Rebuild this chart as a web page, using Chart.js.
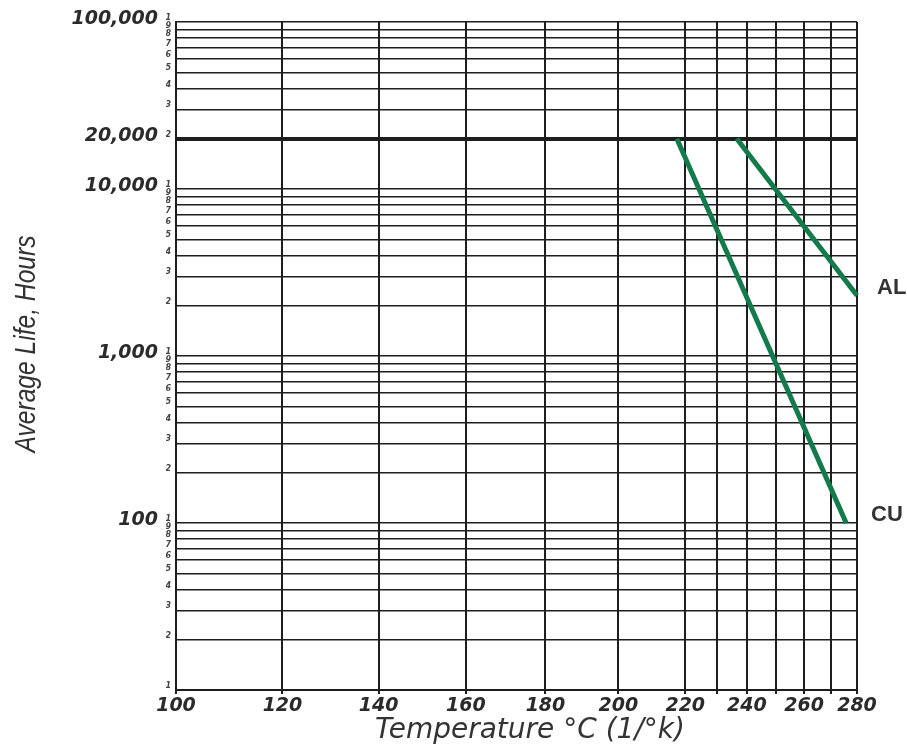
<!DOCTYPE html>
<html>
<head>
<meta charset="utf-8">
<script src="https://cdn.jsdelivr.net/npm/chart.js@4.4.1/dist/chart.umd.min.js"></script>
<style>
  html, body { margin: 0; padding: 0; background: #fff; }
  canvas { display: block; }
</style>
</head>
<body>
<canvas id="lifeChart" width="907" height="749"></canvas>
<script>
// temperature axis (°C, spaced as 1/K)
const tempTicks = [100, 120, 140, 160, 180, 200, 220, 230, 240, 250, 260, 270, 280];
const tempLabels = ['100', '120', '140', '160', '180', '200', '220', '', '240', '', '260', '', '280'];

// life axis (hours, log cycles)
const lifeDecades = [10, 100, 1000, 10000];
const lifeSteps = [1, 2, 3, 4, 5, 6, 7, 8, 9];
const lifeTop = 100000;
const lifeMajor = [100, 1000, 10000, 20000, 100000];
const lifeMajorLabels = ['100', '1,000', '10,000', '20,000', '100,000'];

// series
const seriesNames = ['AL', 'CU'];
const alTemp = [236.6, 280];
const alLife = [20000, 2300];
const cuTemp = [217.4, 275.8];
const cuLife = [20000, 100];

const xTitle = 'Temperature °C (1/°k)';
const yTitle = 'Average Life, Hours';
const KELVIN = 273.15;
const INK = '#1e1e1e';
const GREEN = '#127a4b';

const lifeGrid = [];
const lifeDigits = [];
lifeDecades.forEach((d) => {
  lifeSteps.forEach((s) => {
    lifeGrid.push(d * s);
    lifeDigits.push(String(s));
  });
});
lifeGrid.push(lifeTop);
lifeDigits.push('1');

class InverseKelvinScale extends Chart.LinearScale {
  static id = 'inverseKelvin';
  recip(v) { return 1 / (v + KELVIN); }
  getPixelForValue(value) {
    const a = this.recip(this.min);
    const b = this.recip(this.max);
    return this.getPixelForDecimal((a - this.recip(value)) / (a - b));
  }
  getValueForPixel(pixel) {
    const a = this.recip(this.min);
    const b = this.recip(this.max);
    const d = this.getDecimalForPixel(pixel);
    return 1 / (a - d * (a - b)) - KELVIN;
  }
}
Chart.register(InverseKelvinScale);

const tickFont = (size) => ({ family: '"DejaVu Sans", sans-serif', size, weight: 'bold', style: 'italic' });

const annotations = {
  id: 'annotations',
  afterDraw(chart) {
    const { ctx, chartArea } = chart;
    ctx.save();
    ctx.fillStyle = '#333';

    ctx.save();
    ctx.translate(35, 344);
    ctx.rotate(-Math.PI / 2);
    ctx.scale(0.82, 1);
    ctx.font = 'italic 30px "Liberation Sans", sans-serif';
    ctx.textAlign = 'center';
    ctx.textBaseline = 'alphabetic';
    ctx.fillText(yTitle, 0, 0);
    ctx.restore();

    ctx.font = 'italic 28px "DejaVu Sans", sans-serif';
    ctx.textAlign = 'center';
    ctx.textBaseline = 'middle';
    ctx.fillText(xTitle, 530, 731);

    ctx.font = 'bold 22px "Liberation Sans", sans-serif';
    ctx.textAlign = 'left';
    const gaps = [20, 14];
    seriesNames.forEach((name, i) => {
      const pts = chart.getDatasetMeta(i).data;
      const last = pts[pts.length - 1];
      ctx.fillText(name, chartArea.right + gaps[i], last.y - 8);
    });
    ctx.restore();
  }
};

new Chart(document.getElementById('lifeChart'), {
  type: 'line',
  data: {
    datasets: [
      {
        label: seriesNames[0],
        data: alTemp.map((t, i) => ({ x: t, y: alLife[i] })),
        borderColor: GREEN,
        borderWidth: 5,
        pointRadius: 0,
        fill: false,
        clip: 6,
      },
      {
        label: seriesNames[1],
        data: cuTemp.map((t, i) => ({ x: t, y: cuLife[i] })),
        borderColor: GREEN,
        borderWidth: 5,
        pointRadius: 0,
        fill: false,
        clip: 6,
      },
    ],
  },
  options: {
    responsive: false,
    animation: false,
    layout: { padding: { top: 22, right: 50, bottom: 0, left: 0 } },
    plugins: { legend: { display: false }, tooltip: { enabled: false } },
    scales: {
      x: {
        type: 'inverseKelvin',
        min: 100,
        max: 280,
        bounds: 'data',
        afterBuildTicks: (a) => { a.ticks = tempTicks.map((v) => ({ value: v })); },
        afterFit: (a) => { a.height = 59; },
        grid: { color: INK, lineWidth: 2, tickLength: 4, tickColor: INK },
        border: { color: INK, width: 2 },
        ticks: {
          autoSkip: false, maxRotation: 0, padding: 1, color: '#2b2b2b',
          font: tickFont(19),
          callback: (v, i) => tempLabels[i],
        },
      },
      y: {
        type: 'logarithmic',
        position: 'left',
        weight: 0,
        min: 10,
        max: lifeTop,
        afterBuildTicks: (a) => { a.ticks = lifeGrid.map((v) => ({ value: v })); },
        afterFit: (a) => { a.width = 10; },
        grid: {
          color: INK,
          drawTicks: false,
          lineWidth: (c) => (c.tick && c.tick.value === 20000 ? 4 : 1.5),
        },
        border: { color: INK, width: 2 },
        ticks: {
          autoSkip: false, padding: 5, labelOffset: -4, color: '#444',
          font: tickFont(8),
          callback: (v, i) => lifeDigits[i],
        },
      },
      y2: {
        type: 'logarithmic',
        position: 'left',
        weight: 1,
        min: 10,
        max: lifeTop,
        afterBuildTicks: (a) => { a.ticks = lifeMajor.map((v) => ({ value: v })); },
        afterFit: (a) => { a.width = 166; },
        grid: { display: false },
        border: { display: false },
        ticks: {
          autoSkip: false, padding: 0, labelOffset: -3, color: '#2b2b2b',
          font: tickFont(19),
          callback: (v, i) => lifeMajorLabels[i],
        },
      },
    },
  },
  plugins: [annotations],
});
</script>
</body>
</html>
